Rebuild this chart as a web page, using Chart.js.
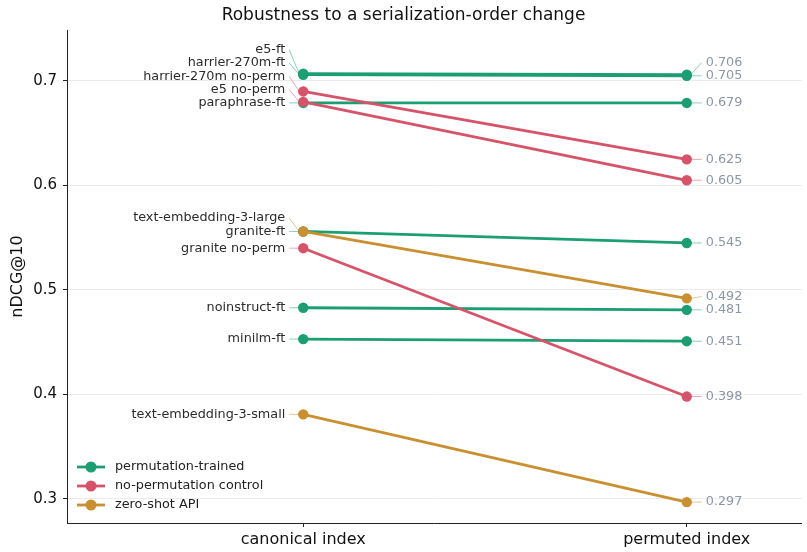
<!DOCTYPE html>
<html>
<head>
<meta charset="utf-8">
<script src="https://cdn.jsdelivr.net/npm/chart.js@4/dist/chart.umd.min.js"></script>
<style>
  html, body { margin: 0; padding: 0; background: #fff; }
  #wrap { width: 807px; height: 552px; }
</style>
</head>
<body>
<div id="wrap"><canvas id="myChart"></canvas></div>
<script>
// data
var models = ['e5-ft', 'harrier-270m-ft', 'harrier-270m no-perm', 'e5 no-perm', 'paraphrase-ft',
              'text-embedding-3-large', 'granite-ft', 'granite no-perm', 'noinstruct-ft', 'minilm-ft',
              'text-embedding-3-small'];
var canonical = [0.707, 0.706, 0.690, 0.680, 0.679, 0.556, 0.556, 0.540, 0.483, 0.453, 0.381];
var permuted  = [0.706, 0.705, 0.625, 0.605, 0.679, 0.492, 0.545, 0.398, 0.481, 0.451, 0.297];
var groups    = ['perm', 'perm', 'noperm', 'noperm', 'perm', 'api', 'perm', 'noperm', 'perm', 'perm', 'api'];
var xLabels = ['canonical index', 'permuted index'];
var yTicks = [0.3, 0.4, 0.5, 0.6, 0.7];

var groupNames = { perm: 'permutation-trained', noperm: 'no-permutation control', api: 'zero-shot API' };
var groupColors = { perm: '#1b9e72', noperm: '#d6546a', api: '#c98f30' };
var groupFaint = { perm: 'rgba(27,158,114,0.5)', noperm: 'rgba(214,84,106,0.5)', api: 'rgba(201,143,48,0.5)' };
var groupOrder = { perm: 3, noperm: 2, api: 1 };

var datasets = models.map(function (m, i) {
    var g = groups[i];
    return {
        label: m,
        data: [{ x: 0, y: canonical[i] }, { x: 1, y: permuted[i] }],
        borderColor: groupColors[g],
        backgroundColor: groupColors[g],
        borderWidth: 2.8,
        pointRadius: 5.2,
        pointBorderWidth: 0,
        order: groupOrder[g]
    };
});

var FONT = "'DejaVu Sans', sans-serif";
var GAP = 13.3;

function spread(items) {
    // push labels upward from the bottom so they don't overlap
    items.sort(function (a, b) { return (b.py - a.py) || (b.i - a.i); });
    var prev = null;
    items.forEach(function (it) {
        it.ly = prev === null ? it.py : Math.min(it.py, prev - GAP);
        prev = it.ly;
    });
    return items;
}

var labelPlugin = {
    id: 'labels',
    afterDatasetsDraw: function (chart) {
        var ctx = chart.ctx;
        var xs = chart.scales.x, ys = chart.scales.y;
        var x0 = xs.getPixelForValue(0), x1 = xs.getPixelForValue(1);

        var left = spread(models.map(function (m, i) {
            return { text: m, i: i, py: ys.getPixelForValue(canonical[i]), g: groups[i] };
        }));
        var right = spread(models.map(function (m, i) {
            return { text: permuted[i].toFixed(3), i: -i, py: ys.getPixelForValue(permuted[i]), g: groups[i] };
        }));

        ctx.save();
        ctx.font = '12.8px ' + FONT;
        ctx.textBaseline = 'middle';
        ctx.lineWidth = 1;

        left.forEach(function (it) {
            ctx.strokeStyle = groupFaint[it.g];
            ctx.beginPath();
            ctx.moveTo(x0 - 14, it.ly);
            ctx.lineTo(x0 - 4, it.py);
            ctx.stroke();
            ctx.fillStyle = '#2b2b2b';
            ctx.textAlign = 'right';
            ctx.fillText(it.text, x0 - 18, it.ly);
        });

        right.forEach(function (it) {
            ctx.strokeStyle = groupFaint[it.g];
            ctx.beginPath();
            ctx.moveTo(x1 + 4, it.py);
            ctx.lineTo(x1 + 15, it.ly);
            ctx.stroke();
            ctx.fillStyle = '#8c96a5';
            ctx.textAlign = 'left';
            ctx.fillText(it.text, x1 + 19, it.ly);
        });

        // legend, lower left inside the plot
        var lx = chart.chartArea.left + 10;
        var ly = chart.chartArea.bottom - 56;
        ['perm', 'noperm', 'api'].forEach(function (g, k) {
            var y = ly + k * 19;
            ctx.strokeStyle = groupColors[g];
            ctx.lineWidth = 2.8;
            ctx.beginPath();
            ctx.moveTo(lx, y);
            ctx.lineTo(lx + 28, y);
            ctx.stroke();
            ctx.fillStyle = groupColors[g];
            ctx.beginPath();
            ctx.arc(lx + 14, y, 5.5, 0, Math.PI * 2);
            ctx.fill();
            ctx.fillStyle = '#222';
            ctx.textAlign = 'left';
            ctx.fillText(groupNames[g], lx + 38, y);
        });
        ctx.restore();
    }
};

var ctx = document.getElementById('myChart');
var myChart = new Chart(ctx, {
    type: 'line',
    data: { datasets: datasets },
    plugins: [labelPlugin],
    options: {
        responsive: true,
        maintainAspectRatio: false,
        animation: false,
        layout: { padding: 0 },
        plugins: {
            legend: { display: false },
            tooltip: { enabled: false },
            title: {
                display: true,
                text: 'Robustness to a serialization-order change',
                color: '#111',
                font: { family: FONT, size: 17, weight: 'normal' },
                padding: { top: 5, bottom: 4.6 }
            }
        },
        scales: {
            x: {
                type: 'linear',
                min: -0.616,
                max: 1.300,
                afterFit: function (s) { s.height = 29; },
                afterBuildTicks: function (s) { s.ticks = [{ value: 0 }, { value: 1 }]; },
                ticks: {
                    color: '#111',
                    font: { family: FONT, size: 16 },
                    padding: 3,
                    callback: function (v) { return xLabels[v]; }
                },
                grid: { drawOnChartArea: false, drawTicks: true, tickLength: 4, tickColor: '#222' },
                border: { display: true, color: '#222', width: 1 }
            },
            y: {
                min: 0.277,
                max: 0.7488,
                afterFit: function (s) { s.width = 67; },
                afterBuildTicks: function (s) { s.ticks = yTicks.map(function (v) { return { value: v }; }); },
                ticks: {
                    color: '#111',
                    font: { family: FONT, size: 15 },
                    padding: 6,
                    callback: function (v) { return v.toFixed(1); }
                },
                grid: { color: '#ebebeb', lineWidth: 1, tickLength: 4, tickColor: '#222' },
                border: { display: true, color: '#222', width: 1 },
                title: {
                    display: true,
                    text: 'nDCG@10',
                    color: '#111',
                    font: { family: FONT, size: 16 },
                    padding: { top: 8, bottom: 0 }
                }
            }
        }
    }
});
</script>
</body>
</html>
